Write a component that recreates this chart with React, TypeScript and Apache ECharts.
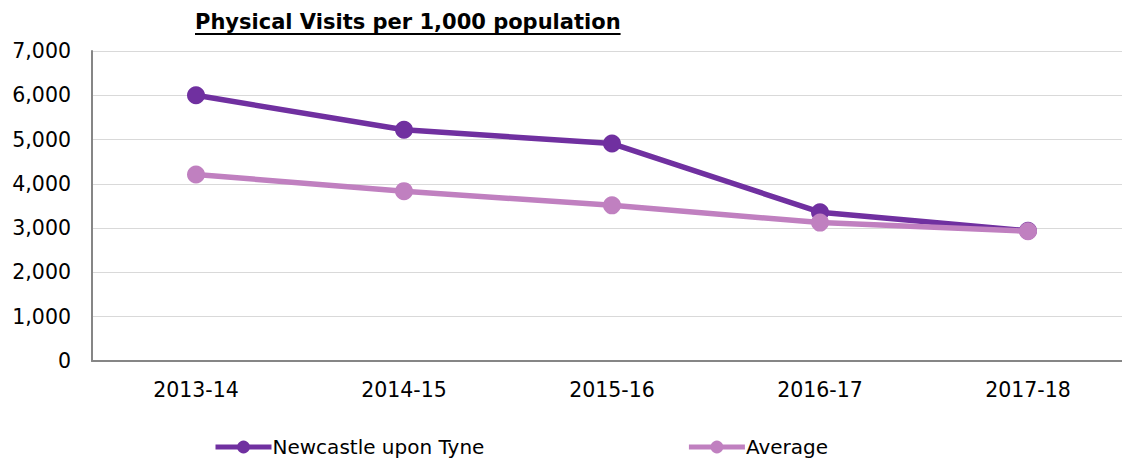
import React, { useEffect, useRef } from "react";
import * as echarts from "echarts";

const categories = ["2013-14", "2014-15", "2015-16", "2016-17", "2017-18"];
const newcastle = [6000, 5220, 4910, 3360, 2940];
const average = [4210, 3835, 3515, 3125, 2930];
const yTicks = [0, 1000, 2000, 3000, 4000, 5000, 6000, 7000];
const titleText = "Physical Visits per 1,000 population";
const seriesNames = ["Newcastle upon Tyne", "Average"];

const FONT = "'DejaVu Sans', Verdana, sans-serif";

export default function App() {
  const ref = useRef<HTMLDivElement>(null);
  useEffect(() => {
    if (!ref.current) return;
    const chart = echarts.init(ref.current, null, { renderer: "svg" });
    const canvas = document.createElement("canvas");
    const ctx = canvas.getContext("2d")!;
    ctx.font = "bold 21px 'DejaVu Sans'";
    const tw = ctx.measureText(titleText).width;
    chart.setOption({
      animation: false,
      backgroundColor: "#ffffff",
      graphic: [
        {
          type: "group",
          left: 195,
          top: 11,
          children: [
            {
              type: "text",
              x: 0,
              y: 0,
              style: {
                text: titleText,
                font: "bold 21px " + FONT,
                fill: "#000000",
              },
            },
            {
              type: "rect",
              shape: { x: 0, y: 22, width: tw, height: 2 },
              style: { fill: "#000000" },
            },
          ],
        },
      ],
      grid: { left: 92, right: 8, top: 51, bottom: 100 },
      legend: {
        left: 208,
        top: 432,
        itemWidth: 56,
        itemHeight: 16,
        itemGap: 202,
        lineStyle: { width: 5 },
        textStyle: { fontFamily: FONT, fontSize: 20, color: "#000", padding: [0, 0, 0, -4] },
        data: seriesNames,
      },
      xAxis: {
        type: "category",
        data: categories,
        boundaryGap: true,
        axisLine: { show: true, lineStyle: { color: "#868686", width: 2 } },
        axisTick: { show: false },
        axisLabel: { fontFamily: FONT, fontSize: 20.5, color: "#000", margin: 18 },
      },
      yAxis: {
        type: "value",
        min: yTicks[0],
        max: yTicks[yTicks.length - 1],
        interval: 1000,
        axisLine: { show: true, lineStyle: { color: "#868686", width: 2 } },
        axisTick: { show: false },
        splitLine: { lineStyle: { color: "#d9d9d9", width: 1 } },
        axisLabel: {
          fontFamily: FONT,
          fontSize: 20.5,
          color: "#000",
          margin: 21,
          formatter: (v: number) => v.toLocaleString("en-US"),
        },
      },
      series: [
        {
          name: seriesNames[0],
          type: "line",
          data: newcastle,
          symbol: "circle",
          symbolSize: 18,
          z: 2,
          lineStyle: { color: "#7030a0", width: 5.5 },
          itemStyle: { color: "#7030a0" },
        },
        {
          name: seriesNames[1],
          type: "line",
          data: average,
          symbol: "circle",
          symbolSize: 18,
          z: 3,
          lineStyle: { color: "#c080c0", width: 5.5 },
          itemStyle: { color: "#c080c0" },
        },
      ],
    });
    return () => chart.dispose();
  }, []);
  return (
    <div
      ref={ref}
      style={{ position: "absolute", left: 0, top: 0, width: 1140, height: 461 }}
    />
  );
}
